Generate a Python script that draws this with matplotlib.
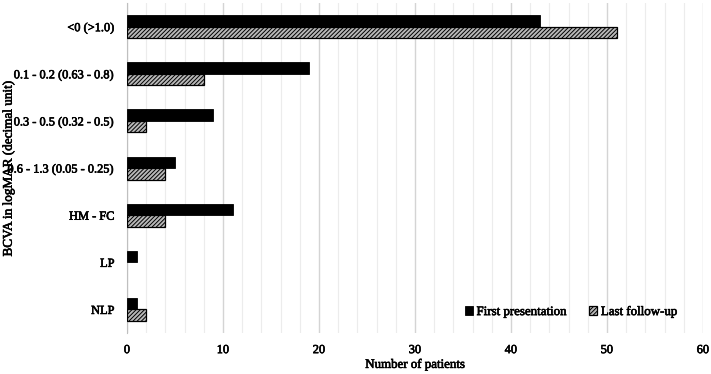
import numpy as np
import matplotlib.pyplot as plt
import matplotlib.patheffects as pe

categories = ["<0 (>1.0)", "0.1 - 0.2 (0.63 - 0.8)", "0.3 - 0.5 (0.32 - 0.5)",
              "0.6 - 1.3 (0.05 - 0.25)", "HM - FC", "LP", "NLP"]
first = [43, 19, 9, 5, 11, 1, 1]
last = [51, 8, 2, 4, 4, 0, 2]

plt.rcParams['font.family'] = ['Liberation Serif', 'DejaVu Serif']
plt.rcParams['hatch.linewidth'] = 0.7
plt.rcParams['hatch.color'] = '#3a3a3a'
heavy = [pe.withStroke(linewidth=0.45, foreground='black')]

fig = plt.figure(figsize=(7.11, 3.74), dpi=100)
ax = fig.add_axes([0.1786, 0.1096, 0.81, 0.882])

y = np.arange(len(categories))[::-1].astype(float)
h = 0.245
ax.barh(y + h / 2, first, height=h, color='black', edgecolor='black', lw=0.6,
        label='First presentation', zorder=3)
ax.barh(y - h / 2, last, height=h, facecolor='#b8b8b8', edgecolor='black',
        lw=[0.9 if v else 0 for v in last],
        hatch='////////', label='Last follow-up', zorder=3)

ax.set_xlim(0, 60)
ax.set_ylim(-0.5, len(categories) - 0.5)
ax.set_xticks(np.arange(0, 61, 10))
ax.set_xticks(np.arange(0, 61, 2), minor=True)
ax.grid(axis='x', which='major', color='#d4d4d4', lw=1.0, zorder=0)
ax.grid(axis='x', which='minor', color='#ececec', lw=0.8, zorder=0)
ax.set_yticks(y)
ax.set_yticklabels(categories)
ax.tick_params(axis='both', which='both', length=0, labelsize=8.9)
ax.tick_params(axis='x', pad=8)
ax.tick_params(axis='y', pad=9)
for s in ['top', 'right', 'bottom']:
    ax.spines[s].set_visible(False)
ax.spines['left'].set_color('#bfbfbf')

ax.set_xlabel('Number of patients', fontsize=9.3, labelpad=2)
ax.set_ylabel('BCVA in logMAR (decimal unit)', fontsize=9.5)
ax.yaxis.set_label_coords(-0.195, 0.5)

leg = ax.legend(loc='lower right', ncol=2, frameon=False, fontsize=9.3,
                handlelength=0.6, handleheight=0.6, handletextpad=0.3,
                columnspacing=1.8, bbox_to_anchor=(0.975, 0.01))

texts = ax.get_xticklabels() + ax.get_yticklabels() + leg.get_texts()
texts += [ax.xaxis.label, ax.yaxis.label]
for t in texts:
    t.set_path_effects(heavy)

fig.savefig('out.png', dpi=100)
